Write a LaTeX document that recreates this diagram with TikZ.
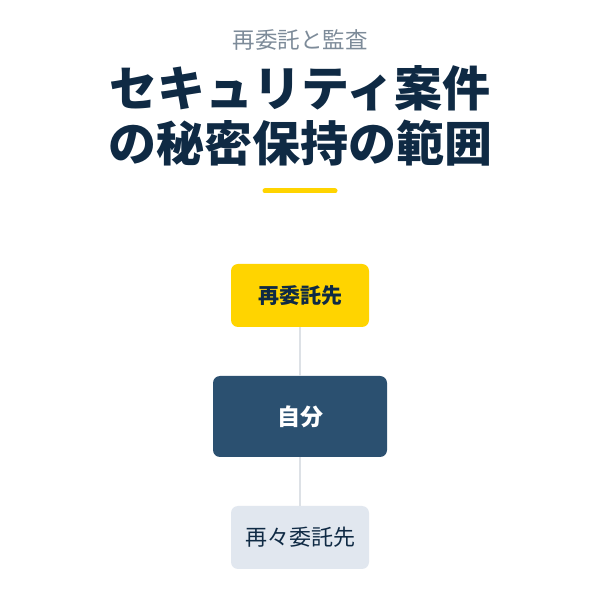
\documentclass[tikz,border=0pt]{standalone}
\usepackage{fontspec}
\newfontfamily\jp{Noto Sans CJK JP}
\definecolor{navy}{HTML}{0F2A44}
\definecolor{boxblue}{HTML}{2B5070}
\definecolor{ylw}{HTML}{FFD400}
\definecolor{subgray}{HTML}{7D8B99}
\definecolor{lightbox}{HTML}{E1E7EF}
\definecolor{linegray}{HTML}{DDE1E6}
\tikzset{
  box/.style={rounded corners=7pt, inner sep=0pt, align=center},
}
\begin{document}
\begin{tikzpicture}[x=1pt,y=1pt]
\useasboundingbox (0,0) rectangle (600,600);
\fill[white] (0,0) rectangle (600,600);
\node[text=subgray, font=\jp\fontsize{22.5}{26}\selectfont] (sub) at (300,560) {再委託と監査};
\node[text=navy, font=\jp\bfseries\fontsize{48}{52}\selectfont] (t1) at (300,512) {セキュリティ案件};
\node[text=navy, font=\jp\bfseries\fontsize{48}{52}\selectfont] (t2) at (300,457) {の秘密保持の範囲};
\draw[ylw, line width=5pt, line cap=round] (265,409) -- (335,409);
\node[box, fill=ylw, minimum width=138pt, minimum height=63pt, text=navy, font=\jp\bfseries\fontsize{21}{25}\selectfont] (a) at (300,304.5) {再委託先};
\node[box, fill=boxblue, minimum width=174pt, minimum height=81pt, text=white, font=\jp\bfseries\fontsize{23}{27}\selectfont] (b) at (300,183.5) {自分};
\node[box, fill=lightbox, minimum width=138pt, minimum height=63pt, text=navy, font=\jp\fontsize{22}{26}\selectfont] (c) at (300,62.5) {再々委託先};
\draw[linegray, line width=2pt] (a.south) -- (b.north);
\draw[linegray, line width=2pt] (b.south) -- (c.north);
\end{tikzpicture}
\end{document}
